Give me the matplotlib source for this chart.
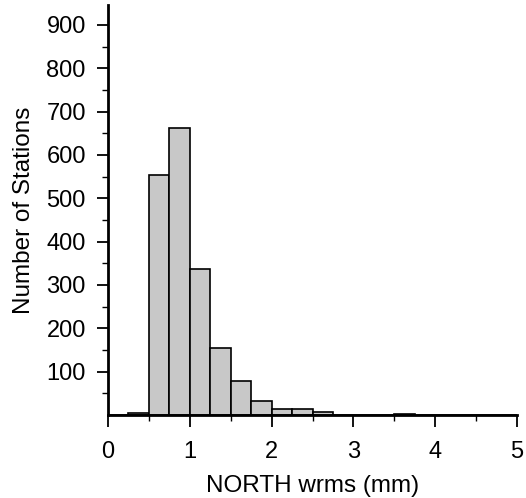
import matplotlib
matplotlib.use("Agg")
import matplotlib.pyplot as plt
from matplotlib.ticker import MultipleLocator, FixedLocator
import numpy as np

bin_edges = [0.0, 0.25, 0.5, 0.75, 1.0, 1.25, 1.5, 1.75, 2.0, 2.25, 2.5, 2.75,
             3.0, 3.25, 3.5, 3.75, 4.0, 4.25, 4.5, 4.75, 5.0]
counts = [0, 4, 553, 662, 336, 154, 79, 32, 14, 14, 7, 1,
          1, 1, 3, 1, 1, 1, 1, 1]
x_ticks = [0, 1, 2, 3, 4, 5]
y_ticks = [100, 200, 300, 400, 500, 600, 700, 800, 900]

plt.rcParams['font.family'] = ['Liberation Sans', 'DejaVu Sans']

fig = plt.figure(figsize=(5.26, 4.98), dpi=100)
ax = fig.add_axes([108/526, (498-415)/498, (517-108)/526, (415-5)/498])

lefts = np.array(bin_edges[:-1])
widths = np.diff(bin_edges)
ax.bar(lefts, counts, width=widths, align='edge', color='#c8c8c8',
       edgecolor='black', linewidth=1.2)

ax.set_xlim(0, 5)
ax.set_ylim(0, 946)
ax.spines['top'].set_visible(False)
ax.spines['right'].set_visible(False)
ax.spines['left'].set_linewidth(2)
ax.spines['bottom'].set_linewidth(2)

ax.xaxis.set_major_locator(FixedLocator(x_ticks))
ax.xaxis.set_minor_locator(MultipleLocator(0.5))
ax.yaxis.set_major_locator(FixedLocator(y_ticks))
ax.yaxis.set_minor_locator(FixedLocator(np.arange(50, 950, 100)))

ax.tick_params(axis='x', which='major', direction='out', length=8.5, width=1.3,
               labelsize=17, pad=10.5)
ax.tick_params(axis='y', which='major', direction='out', length=8, width=1.3,
               labelsize=17, pad=8)
ax.tick_params(axis='both', which='minor', direction='out', length=4.5, width=1.0)

ax.set_xlabel('NORTH wrms (mm)', fontsize=17.5, labelpad=8)
ax.set_ylabel('Number of Stations', fontsize=17.5, labelpad=8)

fig.savefig('out.png', dpi=100)
